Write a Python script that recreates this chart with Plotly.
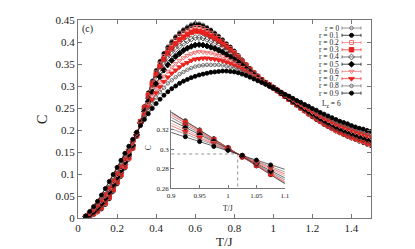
import plotly.graph_objects as go

# ---------------- data ----------------
T = [0.04, 0.06, 0.08, 0.10, 0.12, 0.14, 0.16, 0.18, 0.20, 0.22,
     0.24, 0.26, 0.28, 0.30, 0.32, 0.34, 0.36, 0.38, 0.40, 0.42,
     0.44, 0.46, 0.48, 0.50, 0.52, 0.54, 0.56, 0.58, 0.60, 0.62,
     0.64, 0.66, 0.68, 0.70, 0.72, 0.74, 0.76, 0.78, 0.80, 0.82,
     0.84, 0.86, 0.88, 0.90, 0.92, 0.94, 0.96, 0.98, 1.00, 1.02,
     1.04, 1.06, 1.08, 1.10, 1.12, 1.14, 1.16, 1.18, 1.20, 1.22,
     1.24, 1.26, 1.28, 1.30, 1.32, 1.34, 1.36, 1.38, 1.40, 1.42,
     1.44, 1.46, 1.48, 1.50]

C_r00 = [0.002, 0.004, 0.008, 0.013, 0.020, 0.030, 0.043, 0.060, 0.077, 0.094,
         0.113, 0.133, 0.157, 0.186, 0.220, 0.254, 0.285, 0.312, 0.336, 0.357,
         0.375, 0.390, 0.402, 0.413, 0.422, 0.429, 0.435, 0.440, 0.443, 0.442,
         0.439, 0.434, 0.428, 0.421, 0.414, 0.406, 0.397, 0.389, 0.380, 0.370,
         0.360, 0.350, 0.340, 0.331, 0.323, 0.315, 0.308, 0.302, 0.296, 0.290,
         0.283, 0.276, 0.269, 0.262, 0.256, 0.249, 0.243, 0.236, 0.230, 0.224,
         0.218, 0.212, 0.207, 0.202, 0.197, 0.193, 0.189, 0.185, 0.181, 0.178,
         0.174, 0.171, 0.167, 0.164]
C_r01 = [0.002, 0.004, 0.008, 0.014, 0.021, 0.031, 0.044, 0.061, 0.078, 0.095,
         0.114, 0.134, 0.158, 0.186, 0.220, 0.253, 0.284, 0.310, 0.334, 0.355,
         0.373, 0.387, 0.399, 0.410, 0.419, 0.426, 0.432, 0.437, 0.440, 0.439,
         0.436, 0.431, 0.426, 0.419, 0.412, 0.404, 0.395, 0.388, 0.379, 0.369,
         0.359, 0.349, 0.340, 0.331, 0.323, 0.315, 0.308, 0.302, 0.296, 0.290,
         0.283, 0.276, 0.269, 0.262, 0.256, 0.249, 0.243, 0.236, 0.230, 0.224,
         0.219, 0.213, 0.208, 0.203, 0.198, 0.194, 0.190, 0.186, 0.182, 0.179,
         0.175, 0.172, 0.168, 0.165]
C_r02 = [0.002, 0.005, 0.009, 0.015, 0.023, 0.033, 0.046, 0.063, 0.080, 0.097,
         0.116, 0.135, 0.159, 0.187, 0.219, 0.252, 0.281, 0.307, 0.330, 0.350,
         0.367, 0.382, 0.393, 0.404, 0.413, 0.420, 0.425, 0.430, 0.433, 0.433,
         0.430, 0.426, 0.420, 0.414, 0.408, 0.400, 0.392, 0.385, 0.376, 0.367,
         0.357, 0.348, 0.338, 0.330, 0.322, 0.314, 0.308, 0.302, 0.296, 0.290,
         0.283, 0.276, 0.270, 0.263, 0.257, 0.250, 0.244, 0.237, 0.232, 0.226,
         0.220, 0.214, 0.209, 0.204, 0.199, 0.195, 0.191, 0.187, 0.183, 0.180,
         0.176, 0.174, 0.170, 0.167]
C_r03 = [0.002, 0.006, 0.011, 0.017, 0.025, 0.036, 0.049, 0.066, 0.083, 0.100,
         0.118, 0.138, 0.160, 0.187, 0.219, 0.250, 0.278, 0.303, 0.325, 0.344,
         0.361, 0.375, 0.386, 0.396, 0.405, 0.411, 0.417, 0.422, 0.425, 0.424,
         0.422, 0.418, 0.413, 0.408, 0.402, 0.395, 0.388, 0.381, 0.373, 0.364,
         0.355, 0.346, 0.337, 0.329, 0.321, 0.314, 0.307, 0.302, 0.296, 0.290,
         0.283, 0.277, 0.270, 0.264, 0.258, 0.251, 0.245, 0.239, 0.233, 0.227,
         0.221, 0.216, 0.211, 0.206, 0.201, 0.197, 0.193, 0.189, 0.185, 0.182,
         0.179, 0.176, 0.172, 0.169]
C_r04 = [0.003, 0.007, 0.013, 0.020, 0.029, 0.040, 0.054, 0.071, 0.087, 0.104,
         0.122, 0.141, 0.163, 0.188, 0.217, 0.246, 0.272, 0.295, 0.316, 0.334,
         0.349, 0.362, 0.373, 0.383, 0.391, 0.397, 0.403, 0.407, 0.410, 0.410,
         0.409, 0.406, 0.402, 0.397, 0.392, 0.387, 0.380, 0.374, 0.367, 0.359,
         0.351, 0.343, 0.335, 0.327, 0.320, 0.313, 0.307, 0.301, 0.296, 0.290,
         0.284, 0.277, 0.271, 0.265, 0.259, 0.253, 0.247, 0.241, 0.235, 0.230,
         0.224, 0.219, 0.214, 0.209, 0.204, 0.200, 0.197, 0.193, 0.189, 0.186,
         0.182, 0.179, 0.176, 0.173]
C_r05 = [0.003, 0.008, 0.015, 0.023, 0.033, 0.045, 0.059, 0.076, 0.093, 0.109,
         0.127, 0.145, 0.166, 0.190, 0.216, 0.242, 0.265, 0.286, 0.305, 0.321,
         0.336, 0.348, 0.358, 0.367, 0.374, 0.381, 0.386, 0.390, 0.393, 0.394,
         0.393, 0.391, 0.388, 0.385, 0.381, 0.377, 0.371, 0.366, 0.360, 0.354,
         0.347, 0.339, 0.332, 0.325, 0.318, 0.312, 0.306, 0.301, 0.296, 0.290,
         0.284, 0.278, 0.272, 0.266, 0.261, 0.255, 0.249, 0.243, 0.238, 0.233,
         0.227, 0.222, 0.217, 0.213, 0.208, 0.204, 0.200, 0.197, 0.193, 0.190,
         0.186, 0.184, 0.180, 0.178]
C_r06 = [0.004, 0.010, 0.018, 0.027, 0.038, 0.050, 0.065, 0.082, 0.098, 0.114,
         0.132, 0.150, 0.169, 0.191, 0.215, 0.238, 0.259, 0.277, 0.294, 0.309,
         0.322, 0.333, 0.343, 0.351, 0.358, 0.364, 0.369, 0.373, 0.376, 0.378,
         0.377, 0.376, 0.375, 0.372, 0.369, 0.366, 0.362, 0.358, 0.354, 0.348,
         0.342, 0.336, 0.329, 0.323, 0.317, 0.311, 0.306, 0.300, 0.295, 0.290,
         0.285, 0.279, 0.273, 0.268, 0.262, 0.257, 0.251, 0.246, 0.240, 0.236,
         0.230, 0.225, 0.221, 0.216, 0.212, 0.208, 0.204, 0.201, 0.197, 0.194,
         0.191, 0.188, 0.185, 0.182]
C_r07 = [0.004, 0.011, 0.020, 0.030, 0.042, 0.055, 0.070, 0.087, 0.103, 0.119,
         0.136, 0.153, 0.172, 0.192, 0.213, 0.234, 0.252, 0.269, 0.284, 0.298,
         0.310, 0.320, 0.329, 0.336, 0.343, 0.349, 0.353, 0.358, 0.361, 0.362,
         0.363, 0.363, 0.362, 0.361, 0.359, 0.357, 0.354, 0.351, 0.347, 0.343,
         0.338, 0.332, 0.326, 0.321, 0.315, 0.310, 0.305, 0.300, 0.295, 0.290,
         0.285, 0.279, 0.274, 0.269, 0.264, 0.259, 0.253, 0.248, 0.243, 0.238,
         0.233, 0.228, 0.224, 0.220, 0.215, 0.211, 0.208, 0.205, 0.201, 0.198,
         0.194, 0.192, 0.189, 0.186]
C_r08 = [0.004, 0.013, 0.023, 0.034, 0.046, 0.060, 0.076, 0.092, 0.108, 0.124,
         0.141, 0.158, 0.175, 0.193, 0.212, 0.229, 0.246, 0.260, 0.274, 0.286,
         0.296, 0.306, 0.313, 0.320, 0.327, 0.332, 0.337, 0.341, 0.344, 0.346,
         0.347, 0.348, 0.348, 0.348, 0.348, 0.347, 0.345, 0.343, 0.341, 0.337,
         0.333, 0.329, 0.324, 0.319, 0.314, 0.309, 0.305, 0.300, 0.295, 0.291,
         0.285, 0.280, 0.276, 0.270, 0.265, 0.261, 0.255, 0.251, 0.246, 0.241,
         0.236, 0.232, 0.228, 0.223, 0.219, 0.215, 0.212, 0.209, 0.205, 0.202,
         0.199, 0.196, 0.193, 0.191]
C_r09 = [0.005, 0.015, 0.026, 0.038, 0.052, 0.067, 0.083, 0.099, 0.115, 0.131,
         0.147, 0.163, 0.179, 0.195, 0.210, 0.224, 0.237, 0.249, 0.260, 0.270,
         0.279, 0.287, 0.294, 0.300, 0.306, 0.311, 0.315, 0.319, 0.322, 0.325,
         0.327, 0.329, 0.331, 0.332, 0.333, 0.334, 0.334, 0.333, 0.332, 0.330,
         0.327, 0.324, 0.320, 0.316, 0.312, 0.308, 0.304, 0.299, 0.295, 0.291,
         0.286, 0.281, 0.277, 0.272, 0.267, 0.263, 0.258, 0.254, 0.249, 0.245,
         0.240, 0.236, 0.232, 0.228, 0.224, 0.220, 0.217, 0.214, 0.210, 0.207,
         0.204, 0.202, 0.199, 0.197]

series_labels = ["r = 0", "r = 0.1", "r = 0.2", "r = 0.3", "r = 0.4",
                 "r = 0.5", "r = 0.6", "r = 0.7", "r = 0.8", "r = 0.9"]
main_series = [C_r00, C_r01, C_r02, C_r03, C_r04, C_r05, C_r06, C_r07, C_r08, C_r09]

# inset: data points near the crossing and linear-fit end values
T_inset = [0.925, 0.95, 0.975, 1.0, 1.025, 1.05, 1.075]
inset_points = [
    [0.330, 0.320, 0.311, 0.302, 0.292, 0.283, 0.274],
    [0.329, 0.320, 0.311, 0.302, 0.292, 0.283, 0.274],
    [0.328, 0.319, 0.310, 0.301, 0.292, 0.284, 0.275],
    [0.327, 0.318, 0.310, 0.301, 0.293, 0.284, 0.275],
    [0.325, 0.317, 0.309, 0.301, 0.293, 0.285, 0.277],
    [0.322, 0.315, 0.308, 0.300, 0.293, 0.286, 0.278],
    [0.320, 0.313, 0.307, 0.300, 0.293, 0.286, 0.280],
    [0.318, 0.312, 0.306, 0.300, 0.293, 0.287, 0.281],
    [0.316, 0.310, 0.305, 0.299, 0.294, 0.288, 0.282],
    [0.313, 0.308, 0.303, 0.299, 0.294, 0.289, 0.284],
]
T_fit = [0.9, 1.1]
inset_fits = [
    [0.3386, 0.2646], [0.3381, 0.2650], [0.3369, 0.2658], [0.3354, 0.2668],
    [0.3329, 0.2686], [0.3300, 0.2707], [0.3270, 0.2728], [0.3243, 0.2747],
    [0.3213, 0.2768], [0.3175, 0.2795],
]
T_cross = 1.017
C_cross = 0.2953

# ---------------- styles ----------------
GRAY = "#666666"
DGRAY = "#444444"
BLACK = "#000000"
LRED = "#f07070"
RED = "#e8231f"
symbols = ["circle-open", "circle", "square-open", "square", "diamond-open",
           "diamond", "triangle-down-open", "triangle-down", "circle-open", "circle"]
colors = [GRAY, BLACK, LRED, RED, DGRAY, BLACK, LRED, RED, GRAY, BLACK]
sizes = [3.5, 4, 4, 4.5, 4.5, 4.5, 4.5, 5, 3.5, 4]
leg_sizes = [3.5, 4, 4, 4.5, 4.5, 4.5, 4.5, 5, 3.5, 4]

FONT = "'Liberation Serif', 'Times New Roman', 'DejaVu Serif', serif"
TXT = "#222222"

fig = go.Figure()

for ys, sym, col, sz, lab in zip(main_series, symbols, colors, sizes, series_labels):
    fig.add_trace(go.Scatter(
        x=T, y=ys, mode="lines+markers", name=lab, showlegend=False,
        line=dict(color=col, width=0.7),
        marker=dict(symbol=sym, size=sz, color=col, line=dict(color=col, width=0.9)),
        xaxis="x", yaxis="y"))

# inset
for fit, col in zip(inset_fits, colors):
    fig.add_trace(go.Scatter(
        x=T_fit, y=fit, mode="lines", showlegend=False,
        line=dict(color=col, width=0.6), xaxis="x2", yaxis="y2"))
for pts, sym, col, sz in zip(inset_points, symbols, colors, sizes):
    fig.add_trace(go.Scatter(
        x=T_inset, y=pts, mode="markers", showlegend=False,
        marker=dict(symbol=sym, size=sz, color=col, line=dict(color=col, width=0.9)),
        xaxis="x2", yaxis="y2"))
# dotted guide lines at the crossing
fig.add_trace(go.Scatter(
    x=[0.9, T_cross, T_cross], y=[C_cross, C_cross, 0.26], mode="lines",
    showlegend=False, line=dict(color="#777777", width=0.8, dash="dot"),
    xaxis="x2", yaxis="y2"))

# ---------- custom legend (pixel-like overlay axis) ----------
leg_y0 = 14.3
leg_dy = 7.45
x_cap_l, x_cap_r, x_mark = 334.0, 353.0, 343.5
for i, (sym, col, sz, lab) in enumerate(zip(symbols, colors, leg_sizes, series_labels)):
    yy = leg_y0 + i * leg_dy
    fig.add_trace(go.Scatter(
        x=[x_cap_l, x_cap_r], y=[yy, yy], mode="lines", showlegend=False,
        line=dict(color=col, width=0.7), xaxis="x3", yaxis="y3"))
    for xc in (x_cap_l, x_cap_r):
        fig.add_trace(go.Scatter(
            x=[xc, xc], y=[yy - 1.6, yy + 1.6], mode="lines", showlegend=False,
            line=dict(color=col, width=0.7), xaxis="x3", yaxis="y3"))
    fig.add_trace(go.Scatter(
        x=[x_mark], y=[yy], mode="markers", showlegend=False,
        marker=dict(symbol=sym, size=sz, color=col, line=dict(color=col, width=0.9)),
        xaxis="x3", yaxis="y3"))
    fig.add_annotation(x=332, y=yy, xref="x3", yref="y3", text=lab, showarrow=False,
                       xanchor="right", yanchor="middle", borderpad=0, height=7.2,
                       font=dict(family=FONT, size=7.5, color=TXT))
fig.add_annotation(x=313, y=92.7, xref="x3", yref="y3", text="L<sub>z</sub> = 6",
                   showarrow=False, xanchor="left", yanchor="middle", borderpad=0,
                   font=dict(family=FONT, size=7.5, color=TXT))

axis_common = dict(showgrid=False, zeroline=False, showline=True,
                   linecolor="#777777", linewidth=1, ticks="inside",
                   tickcolor="#777777", ticklabeloverflow="allow",
                   tickfont=dict(family=FONT, size=11, color=TXT))
inset_common = dict(showgrid=False, zeroline=False, showline=True, linecolor="#777777",
                    linewidth=1, ticks="inside", ticklen=3, tickcolor="#777777", mirror=False,
                    ticklabeloverflow="allow",
                    tickfont=dict(family=FONT, size=7, color=TXT))

fig.update_layout(
    width=415, height=249,
    margin=dict(l=70, r=52, t=6, b=39),
    paper_bgcolor="white", plot_bgcolor="white",
    showlegend=False,
    xaxis=dict(domain=[0, 1], range=[0, 1.5], tickvals=[0, 0.2, 0.4, 0.6, 0.8, 1.0, 1.2, 1.4],
               ticktext=["0", "0.2", "0.4", "0.6", "0.8", "1", "1.2", "1.4"],
               mirror="allticks", ticklen=4, anchor="y", **axis_common),
    yaxis=dict(domain=[0, 1], range=[0, 0.45],
               tickvals=[0, 0.05, 0.1, 0.15, 0.2, 0.25, 0.3, 0.35, 0.4, 0.45],
               ticktext=["0", "0.05", "0.1", "0.15", "0.2", "0.25", "0.3", "0.35", "0.4", "0.45"],
               mirror="allticks", ticklen=4, anchor="x", **axis_common),
    xaxis2=dict(domain=[0.318, 0.706], range=[0.9, 1.1], anchor="y2",
                tickvals=[0.9, 0.95, 1.0, 1.05, 1.1], ticktext=["0.9", "0.95", "1", "1.05", "1.1"],
                **inset_common),
    yaxis2=dict(domain=[0.150, 0.543], range=[0.26, 0.34], anchor="x2",
                tickvals=[0.26, 0.28, 0.3, 0.32], ticktext=["0.26", "0.28", "0.3", "0.32"],
                **inset_common),
    xaxis3=dict(domain=[0, 1], range=[70, 363], overlaying="x", anchor="y3", visible=False),
    yaxis3=dict(domain=[0, 1], range=[210, 6], overlaying="y", anchor="x3", visible=False),
)

# axis titles and panel label
fig.add_annotation(x=0.5, y=-0.118, xref="paper", yref="paper", text="T/J", showarrow=False,
                   xanchor="center", yanchor="middle", borderpad=0,
                   font=dict(family=FONT, size=13, color=TXT))
fig.add_annotation(x=-0.123, y=0.5, xref="paper", yref="paper", text="C", showarrow=False,
                   textangle=-90, xanchor="center", yanchor="middle", borderpad=0,
                   font=dict(family=FONT, size=14, color=TXT))
fig.add_annotation(x=0.512, y=0.049, xref="paper", yref="paper", text="T/J", showarrow=False,
                   xanchor="center", yanchor="middle", borderpad=0,
                   font=dict(family=FONT, size=7.5, color=TXT))
fig.add_annotation(x=0.239, y=0.353, xref="paper", yref="paper", text="C", showarrow=False,
                   textangle=-90, xanchor="center", yanchor="middle", borderpad=0,
                   font=dict(family=FONT, size=7.5, color=TXT))
fig.add_annotation(x=0.031, y=0.953, xref="paper", yref="paper", text="(c)", showarrow=False,
                   xanchor="center", yanchor="middle", borderpad=0,
                   font=dict(family=FONT, size=10, color=TXT))

fig.write_html("out.html")
